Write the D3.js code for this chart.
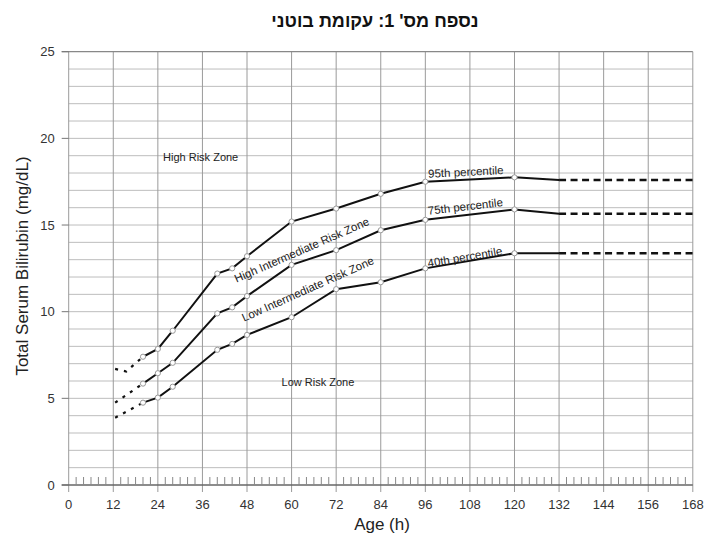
<!DOCTYPE html>
<html><head><meta charset="utf-8">
<script src="https://cdn.jsdelivr.net/npm/d3@7"></script>
<style>body{margin:0;background:#fff} svg{display:block}</style>
</head><body><svg id="c" width="706" height="543"></svg>
<script>
const title = "נספח מס' 1: עקומת בוטני";
const xLabel = "Age (h)";
const yLabel = "Total Serum Bilirubin (mg/dL)";
const xTicks = [0,12,24,36,48,60,72,84,96,108,120,132,144,156,168];
const yTicks = [0,5,10,15,20,25];
const hours = [20,24,28,40,44,48,60,72,84,96,120,132];
const p95 = [7.4,7.85,8.9,12.2,12.5,13.2,15.2,15.95,16.8,17.5,17.75,17.6];
const p75 = [5.85,6.45,7.05,9.9,10.25,10.9,12.7,13.55,14.7,15.3,15.9,15.65];
const p40 = [4.75,5.04,5.67,7.8,8.14,8.66,9.68,11.3,11.7,12.5,13.37,13.37];
const earlyHours95 = [12.5,15.5,20];
const early95 = [6.7,6.55,7.4];
const earlyHours = [12.5,20];
const early75 = [4.75,5.85];
const early40 = [3.88,4.75];
const markerHours = [20,24,28,40,44,48,60,72,84,96,120];
const extendHour = 168;
const percentileNames = ["95th percentile","75th percentile","40th percentile"];
const zoneNames = ["High Risk Zone","High Intermediate Risk Zone","Low Intermediate Risk Zone","Low Risk Zone"];

const svg = d3.select("#c");
const x = d3.scaleLinear().domain([0,168]).range([68.7,692.8]);
const y = d3.scaleLinear().domain([0,25]).range([485,51.7]);
const F = "'Liberation Sans', Arial, sans-serif";
const FN = "'Liberation Sans Narrow','Arial Narrow','Liberation Sans',Arial,sans-serif";

// title
svg.append("text").attr("x",375).attr("y",27).attr("text-anchor","middle")
  .attr("direction","rtl").style("unicode-bidi","embed")
  .attr("font-family",F).attr("font-weight","bold").attr("font-size",18).attr("fill","#111")
  .text(title);

// horizontal grid (every 1)
const g = svg.append("g");
g.selectAll("line.h").data(d3.range(1,25)).join("line")
  .attr("x1",x(0)).attr("x2",x(168)).attr("y1",d=>y(d)).attr("y2",d=>y(d))
  .attr("stroke","#bdbdbd").attr("stroke-width",1);
// vertical grid
g.selectAll("line.v").data(xTicks).join("line")
  .attr("x1",d=>x(d)).attr("x2",d=>x(d)).attr("y1",y(25)).attr("y2",y(0)+7)
  .attr("stroke","#9a9a9a").attr("stroke-width",1);
// top border
g.append("line").attr("x1",x(0)-7).attr("x2",x(168)).attr("y1",y(25)).attr("y2",y(25))
  .attr("stroke","#888").attr("stroke-width",1.2);
// baseline
g.append("line").attr("x1",x(0)-7).attr("x2",x(168)).attr("y1",y(0)).attr("y2",y(0))
  .attr("stroke","#666").attr("stroke-width",1.3);
// y ticks
g.selectAll("line.yt").data(yTicks).join("line")
  .attr("x1",x(0)-7).attr("x2",x(0)).attr("y1",d=>y(d)).attr("y2",d=>y(d))
  .attr("stroke","#777");
// minor ticks every 2h
const minor = d3.range(2,168,2).filter(d=>d%12!==0);
g.selectAll("line.mt").data(minor).join("line")
  .attr("x1",d=>x(d)).attr("x2",d=>x(d)).attr("y1",y(0)).attr("y2",y(0)-8)
  .attr("stroke","#888").attr("stroke-width",1);

// tick labels
svg.append("g").selectAll("text").data(yTicks).join("text")
  .attr("x",x(0)-14).attr("y",d=>y(d)+4.5).attr("text-anchor","end")
  .attr("font-family",FN).attr("font-size",13).attr("fill","#333").text(d=>d);
svg.append("g").selectAll("text").data(xTicks).join("text")
  .attr("x",d=>x(d)).attr("y",509).attr("text-anchor","middle")
  .attr("font-family",FN).attr("font-size",13).attr("fill","#333").text(d=>d);

// axis titles
svg.append("text").attr("x",382).attr("y",530).attr("text-anchor","middle")
  .attr("font-family",F).attr("font-size",17).attr("fill","#222").text(xLabel);
svg.append("text").attr("transform","translate(28,266) rotate(-90)").attr("text-anchor","middle")
  .attr("font-family",F).attr("font-size",17).attr("fill","#222").text(yLabel);

// curves
const line = d3.line().x(d=>x(d[0])).y(d=>y(d[1]));
const series = [p95,p75,p40];
const early = [[earlyHours95,early95],[earlyHours,early75],[earlyHours,early40]];
const cg = svg.append("g");
series.forEach((s,i)=>{
  const pts = hours.map((h,j)=>[h,s[j]]);
  cg.append("path").attr("d",line(pts)).attr("fill","none").attr("stroke","#111").attr("stroke-width",2);
  const e = early[i][0].map((h,j)=>[h,early[i][1][j]]);
  cg.append("path").attr("d",line(e)).attr("fill","none").attr("stroke","#111")
    .attr("stroke-width",2.2).attr("stroke-dasharray","3,6");
  const last = s[s.length-1];
  cg.append("path").attr("d",line([[hours[hours.length-1],last],[extendHour,last]]))
    .attr("fill","none").attr("stroke","#111").attr("stroke-width",2.6).attr("stroke-dasharray","7,4.5");
  cg.selectAll(null).data(markerHours).join("circle")
    .attr("cx",h=>x(h)).attr("cy",h=>y(s[hours.indexOf(h)])).attr("r",2.6)
    .attr("fill","#fff").attr("stroke","#999").attr("stroke-width",1);
});

// percentile labels along 96-120 segment
const i96 = hours.indexOf(96), i120 = hours.indexOf(120);
const offs = [4,5,1];
series.forEach((s,i)=>{
  const x0=x(96), y0=y(s[i96]), x1=x(120), y1=y(s[i120]);
  const ang = Math.atan2(y1-y0,x1-x0)*180/Math.PI;
  svg.append("text").attr("transform",`translate(${x0+3},${y0-offs[i]}) rotate(${ang})`)
    .attr("font-family",F).attr("font-size",11.5).attr("fill","#222").text(percentileNames[i]);
});

// zone labels
const zl = svg.append("g").attr("font-family",F).attr("font-size",11).attr("fill","#222");
zl.append("text").attr("x",x(25.4)).attr("y",y(18.72)).text(zoneNames[0]);
zl.append("text").attr("transform",`translate(${x(45.2)},${y(11.67)}) rotate(-23.6)`).attr("font-size",11.5).text(zoneNames[1]);
zl.append("text").attr("transform",`translate(${x(47.2)},${y(9.42)}) rotate(-24)`).attr("font-size",11.5).text(zoneNames[2]);
zl.append("text").attr("x",x(57.3)).attr("y",y(5.74)).text(zoneNames[3]);
</script></body></html>
